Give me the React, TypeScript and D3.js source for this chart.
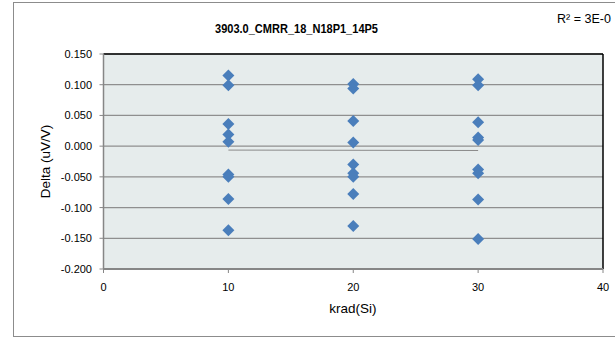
import React from "react";
import * as d3 from "d3";

const title = "3903.0_CMRR_18_N18P1_14P5";
const xLabel = "krad(Si)";
const yLabel = "Delta (uV/V)";
const rSquaredText = "R² = 3E-0";

const doseX = [10, 20, 30];
const delta10 = [0.115, 0.099, 0.036, 0.019, 0.007, -0.046, -0.05, -0.086, -0.137];
const delta20 = [0.101, 0.094, 0.041, 0.006, -0.03, -0.044, -0.05, -0.078, -0.13];
const delta30 = [0.109, 0.099, 0.039, 0.014, 0.01, -0.038, -0.044, -0.087, -0.151];

const xTicks = [0, 10, 20, 30, 40];
const yTicks = [-0.2, -0.15, -0.1, -0.05, 0, 0.05, 0.1, 0.15];

const W = 615;
const H = 338;
const plot = { left: 103.5, right: 603, top: 54, bottom: 269 };
const FONT = "'Liberation Sans', Arial, sans-serif";

export default function App() {
  const x = d3.scaleLinear().domain([0, 40]).range([plot.left, plot.right]);
  const y = d3.scaleLinear().domain([-0.2, 0.15]).range([plot.bottom, plot.top]);

  const columns = [delta10, delta20, delta30];
  const points: { x: number; y: number }[] = [];
  columns.forEach((col, i) => col.forEach((v) => points.push({ x: doseX[i], y: v })));

  // linear regression for trendline
  const mx = d3.mean(points, (p) => p.x) as number;
  const my = d3.mean(points, (p) => p.y) as number;
  const sxy = d3.sum(points, (p) => (p.x - mx) * (p.y - my));
  const sxx = d3.sum(points, (p) => (p.x - mx) * (p.x - mx));
  const slope = sxy / sxx;
  const intercept = my - slope * mx;
  const xMin = d3.min(doseX) as number;
  const xMax = d3.max(doseX) as number;
  const trend = d3.line<number>()
    .x((d) => x(d))
    .y((d) => y(intercept + slope * d));

  const diamond = (cx: number, cy: number, r: number) =>
    `M${cx},${cy - r}L${cx + r},${cy}L${cx},${cy + r}L${cx - r},${cy}Z`;

  return (
    <div style={{ position: "absolute", left: 0, top: 0 }}>
      <svg width={W} height={H} style={{ display: "block" }}>
        <rect x={0} y={0} width={W} height={H} fill="#ffffff" />
        <rect x={13.5} y={2.5} width={620} height={334} fill="#ffffff" stroke="#8c8c8c" strokeWidth={1} />
        <text x={215} y={33} textLength={163} lengthAdjust="spacingAndGlyphs" fontFamily={FONT} fontSize={13} fontWeight="bold" fill="#000">
          {title}
        </text>
        <text x={557} y={23} fontFamily={FONT} fontSize={12.5} fill="#000">
          {rSquaredText}
        </text>
        <rect x={plot.left} y={plot.top} width={plot.right - plot.left} height={plot.bottom - plot.top} fill="#e6ecec" />
        {yTicks.map((t) => (
          <line key={"g" + t} x1={plot.left} x2={plot.right} y1={y(t)} y2={y(t)} stroke="#8f8f8f" strokeWidth={1.2} />
        ))}
        {/* trendline */}
        <path d={trend([xMin, xMax]) || ""} stroke="#8a8a8a" strokeWidth={1} fill="none" />
        {/* border top/right */}
        <line x1={plot.left} x2={plot.right} y1={plot.top} y2={plot.top} stroke="#000" strokeWidth={1.5} />
        <line x1={plot.right} x2={plot.right} y1={plot.top} y2={plot.bottom} stroke="#000" strokeWidth={1.5} />
        {/* axes */}
        <line x1={plot.left} x2={plot.left} y1={plot.top} y2={plot.bottom} stroke="#868686" strokeWidth={1.5} />
        <line x1={plot.left} x2={plot.right} y1={plot.bottom} y2={plot.bottom} stroke="#868686" strokeWidth={2} />
        {yTicks.map((t) => (
          <g key={"y" + t}>
            <line x1={plot.left - 4} x2={plot.left} y1={y(t)} y2={y(t)} stroke="#868686" strokeWidth={1} />
            <text x={92} y={y(t) + 4} textAnchor="end" fontFamily={FONT} fontSize={11} fill="#000">
              {d3.format(".3f")(t).replace("−", "-")}
            </text>
          </g>
        ))}
        {xTicks.map((t) => (
          <g key={"x" + t}>
            <line x1={x(t)} x2={x(t)} y1={plot.bottom} y2={plot.bottom + 4} stroke="#868686" strokeWidth={1} />
            <text x={x(t)} y={plot.bottom + 22} textAnchor="middle" fontFamily={FONT} fontSize={11} fill="#000">
              {t}
            </text>
          </g>
        ))}
        {points.map((p, i) => (
          <path key={i} d={diamond(x(p.x), y(p.y), 6)} fill="#4a7ebb" />
        ))}
        <text x={353} y={313} textAnchor="middle" fontFamily={FONT} fontSize={13.5} fill="#000">
          {xLabel}
        </text>
        <text transform={`translate(50,${(plot.top + plot.bottom) / 2}) rotate(-90)`} textAnchor="middle" fontFamily={FONT} fontSize={13.5} fill="#000">
          {yLabel}
        </text>
      </svg>
    </div>
  );
}
